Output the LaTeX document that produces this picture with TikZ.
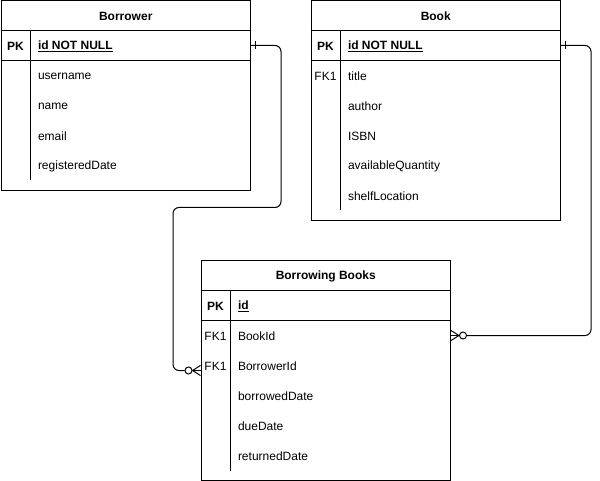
\documentclass[tikz,border=0pt]{standalone}
\usepackage{fontspec}
\setmainfont{Liberation Sans}
\usetikzlibrary{positioning}
\tikzset{tbl/.style={draw, inner sep=0pt, anchor=north west},
  hdr/.style={font=\fontsize{12}{14}\selectfont\bfseries, yshift=-1pt},
  fld/.style={anchor=west, inner sep=0pt, yshift=-1pt},
  keycol/.style={inner sep=0pt, yshift=-1pt},
  zero/.style={circle, draw, fill=white, inner sep=0pt, minimum size=7pt},
  rel/.style={rounded corners=6pt}
}

\begin{document}
\begin{tikzpicture}[x=1pt, y=-1pt, line width=1pt, font=\fontsize{12}{14}\selectfont]
      \useasboundingbox (0,0) rectangle (600,481);
      % Borrower
      \node[tbl, minimum width=249.5pt, minimum height=189.5pt] (borrower) at (0.5,0.5) {};
      \draw ([yshift=-30pt]borrower.north west) -- ([yshift=-30pt]borrower.north east);
      \draw ([yshift=-60pt]borrower.north west) -- ([yshift=-60pt]borrower.north east);
      \draw ([xshift=29.5pt,yshift=-30pt]borrower.north west) -- ([xshift=29.5pt,yshift=-180pt]borrower.north west);
      \node[hdr] (brtitle) at ([yshift=-15pt]borrower.north) {Borrower};
      \node[keycol] (brpk) at ([xshift=15pt,yshift=-45pt]borrower.north west) {\bfseries PK};
      \node[fld] (brid) at ([xshift=37pt,yshift=-45pt]borrower.north west) {\bfseries\underline{id NOT NULL}};
      \node[fld] (bruser) at ([xshift=37pt,yshift=-75pt]borrower.north west) {username};
      \node[fld] (brname) at ([xshift=37pt,yshift=-105pt]borrower.north west) {name};
      \node[fld] (bremail) at ([xshift=37pt,yshift=-135pt]borrower.north west) {email};
      \node[fld] (brdate) at ([xshift=37pt,yshift=-165pt]borrower.north west) {registeredDate};
      % Book
      \node[tbl, minimum width=249.5pt, minimum height=219.5pt] (book) at (310.5,0.5) {};
      \draw ([yshift=-30pt]book.north west) -- ([yshift=-30pt]book.north east);
      \draw ([yshift=-60pt]book.north west) -- ([yshift=-60pt]book.north east);
      \draw ([xshift=29.5pt,yshift=-30pt]book.north west) -- ([xshift=29.5pt,yshift=-210pt]book.north west);
      \node[hdr] (bktitle) at ([yshift=-15pt]book.north) {Book};
      \node[keycol] (bkpk) at ([xshift=15pt,yshift=-45pt]book.north west) {\bfseries PK};
      \node[fld] (bkid) at ([xshift=37pt,yshift=-45pt]book.north west) {\bfseries\underline{id NOT NULL}};
      \node[keycol] (bkfk) at ([xshift=15pt,yshift=-75pt]book.north west) {FK1};
      \node[fld] (bkname) at ([xshift=37pt,yshift=-75pt]book.north west) {title};
      \node[fld] (bkauthor) at ([xshift=37pt,yshift=-105pt]book.north west) {author};
      \node[fld] (bkisbn) at ([xshift=37pt,yshift=-135pt]book.north west) {ISBN};
      \node[fld] (bkqty) at ([xshift=37pt,yshift=-165pt]book.north west) {availableQuantity};
      \node[fld] (bkshelf) at ([xshift=37pt,yshift=-195pt]book.north west) {shelfLocation};
      % Borrowing Books
      \node[tbl, minimum width=249.5pt, minimum height=219.5pt] (borrowing) at (200.5,260.5) {};
      \draw ([yshift=-30pt]borrowing.north west) -- ([yshift=-30pt]borrowing.north east);
      \draw ([yshift=-60pt]borrowing.north west) -- ([yshift=-60pt]borrowing.north east);
      \draw ([xshift=29.5pt,yshift=-30pt]borrowing.north west) -- ([xshift=29.5pt,yshift=-210pt]borrowing.north west);
      \node[hdr] (bwtitle) at ([yshift=-15pt]borrowing.north) {Borrowing Books};
      \node[keycol] (bwpk) at ([xshift=15pt,yshift=-45pt]borrowing.north west) {\bfseries PK};
      \node[fld] (bwid) at ([xshift=37pt,yshift=-45pt]borrowing.north west) {\bfseries\underline{id}};
      \node[keycol] (bwfk1) at ([xshift=15pt,yshift=-75pt]borrowing.north west) {FK1};
      \node[fld] (bwbook) at ([xshift=37pt,yshift=-75pt]borrowing.north west) {BookId};
      \node[keycol] (bwfk2) at ([xshift=15pt,yshift=-105pt]borrowing.north west) {FK1};
      \node[fld] (bwborrower) at ([xshift=37pt,yshift=-105pt]borrowing.north west) {BorrowerId};
      \node[fld] (bwout) at ([xshift=37pt,yshift=-135pt]borrowing.north west) {borrowedDate};
      \node[fld] (bwdue) at ([xshift=37pt,yshift=-165pt]borrowing.north west) {dueDate};
      \node[fld] (bwret) at ([xshift=37pt,yshift=-195pt]borrowing.north west) {returnedDate};
      % relations
      \coordinate (brrow) at ([yshift=-45pt]borrower.north east);
      \coordinate (bkrow) at ([yshift=-45pt]book.north east);
      \node[zero] (bro) at ([xshift=-12pt,yshift=-110pt]borrowing.north west) {};
      \node[zero] (bko) at ([xshift=12pt,yshift=-75pt]borrowing.north east) {};
      \draw[rel] (brrow) -- ++(30,0) -- ++(0,162) -- ++(-108,0) |- (bro.west);
      \draw[rel] (bkrow) -- ++(30,0) |- (bko.east);
      \draw ([xshift=4pt,yshift=4pt]brrow) -- ++(0,8);
      \draw ([xshift=4pt,yshift=4pt]bkrow) -- ++(0,8);
      \draw (bro.east) -- ([yshift=5pt]bro -| borrowing.west);
      \draw (bro.east) -- (bro -| borrowing.west);
      \draw (bro.east) -- ([yshift=-5pt]bro -| borrowing.west);
      \draw (bko.west) -- ([yshift=5pt]bko -| borrowing.east);
      \draw (bko.west) -- (bko -| borrowing.east);
      \draw (bko.west) -- ([yshift=-5pt]bko -| borrowing.east);
    \end{tikzpicture}
\end{document}
